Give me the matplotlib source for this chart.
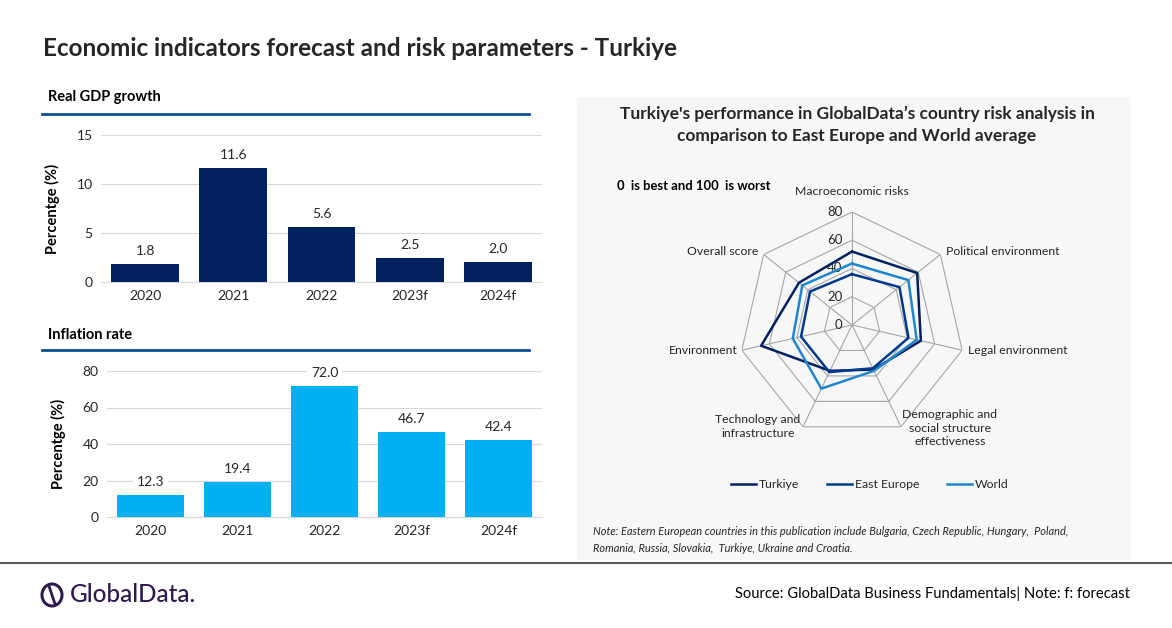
import numpy as np
import matplotlib
matplotlib.use('Agg')
import matplotlib.pyplot as plt
from matplotlib.patches import Rectangle, Ellipse
from matplotlib.lines import Line2D

# ── data ──
years = ['2020', '2021', '2022', '2023f', '2024f']
gdp_growth = [1.8, 11.6, 5.6, 2.5, 2.0]
inflation = [12.3, 19.4, 72.0, 46.7, 42.4]

risk_axes = ['Macroeconomic risks', 'Political environment', 'Legal environment',
             'Demographic and\nsocial structure\neffectiveness',
             'Technology and\ninfrastructure', 'Environment', 'Overall score']
turkiye = [52, 59, 50, 35, 36, 66, 48]
east_europe = [36, 43, 41, 34, 37, 37, 38]
world = [43.5, 51, 47, 36, 50, 43, 45]
radial_ticks = [0, 20, 40, 60, 80]

W, H = 1172, 628
plt.rcParams['font.family'] = ['Lato', 'DejaVu Sans']
TXT = '#262626'
NAVY = '#002060'
CYAN = '#00B0F0'
HEAD = '#0F4C92'

fig = plt.figure(figsize=(W / 100, H / 100), dpi=100)


def px(x0, y0, w, h):
    # pixel box (left, top, width, height) -> figure fraction
    return [x0 / W, 1 - (y0 + h) / H, w / W, h / H]


fig.text(43 / W, 1 - 48 / H, 'Economic indicators forecast and risk parameters - Turkiye',
         fontsize=17.5, fontweight='bold', color=TXT, va='center')


def bar_panel(rect, title, title_y, line_y, vals, color, ylim, yticks):
    fig.text(48 / W, 1 - title_y / H, title, fontsize=10.5, fontweight='bold',
             color='black', va='center')
    fig.add_artist(Line2D([42 / W, 529 / W], [1 - line_y / H] * 2, color=HEAD, lw=2))
    ax = fig.add_axes(rect)
    x = np.arange(len(years))
    bars = ax.bar(x, vals, width=0.77, color=color, zorder=3)
    for b, v in zip(bars, vals):
        ax.annotate(f'{v:.1f}', (b.get_x() + b.get_width() / 2, v),
                    xytext=(0, 5), textcoords='offset points', ha='center', va='bottom',
                    fontsize=10, color=TXT,
                    bbox=dict(boxstyle='square,pad=0.25', fc='white', ec='none'))
    ax.set_xlim(-0.5, len(years) - 0.5)
    ax.set_ylim(*ylim)
    ax.set_yticks(yticks)
    ax.set_xticks(x, years)
    ax.yaxis.grid(True, color='#D9D9D9', lw=0.8, zorder=0)
    ax.tick_params(length=0, labelsize=10, labelcolor=TXT, pad=6)
    for s in ['top', 'right', 'left']:
        ax.spines[s].set_visible(False)
    ax.spines['bottom'].set_color('#D9D9D9')
    ax.set_ylabel('Percentge (%)', fontsize=10.5, fontweight='bold', color='black', labelpad=12)
    return ax


bar_panel(px(101, 135, 441, 147), 'Real GDP growth', 97, 114, gdp_growth, NAVY,
          (0, 15), [0, 5, 10, 15])
bar_panel(px(107, 371, 435, 146), 'Inflation rate', 335, 350, inflation, CYAN,
          (0, 80), [0, 20, 40, 60, 80])

# ── right panel: grey box ──
fig.add_artist(Rectangle((577 / W, 1 - 560 / H), (1131 - 577) / W, (560 - 97) / H,
                         transform=fig.transFigure, fc='#F7F7F7', ec='none', zorder=0))
fig.text(857 / W, 1 - 125 / H,
         "Turkiye's performance in GlobalData\u2019s country risk analysis in\n"
         "comparison to East Europe and World average",
         ha='center', va='center', fontsize=12.5, fontweight='bold', color=TXT,
         linespacing=1.45)
fig.text(617 / W, 1 - 186 / H, '0  is best and 100  is worst', fontsize=9.4,
         fontweight='bold', color='black', va='center')

R = 113
ax = fig.add_axes(px(852 - R, 325 - R, 2 * R, 2 * R), projection='polar')
ax.patch.set_alpha(0)
ax.set_theta_zero_location('N')
ax.set_theta_direction(-1)
n = len(risk_axes)
ang = np.linspace(0, 2 * np.pi, n, endpoint=False)
angc = np.append(ang, ang[0])
ax.set_ylim(0, 80)
ax.grid(False)
ax.spines['polar'].set_visible(False)
ax.set_xticks([])
ax.set_yticks([])
for r in radial_ticks[1:]:
    ax.plot(angc, [r] * (n + 1), color='#A6A6A6', lw=0.8, zorder=1)
for a in ang:
    ax.plot([a, a], [0, 80], color='#A6A6A6', lw=0.8, zorder=1)
for r in radial_ticks:
    ax.annotate(str(r), (0, r), xytext=(-7, 0), textcoords='offset points',
                ha='right', va='center', fontsize=9.5, color=TXT)

series = [('Turkiye', turkiye, '#002060'), ('East Europe', east_europe, '#003A8C'),
          ('World', world, '#1F86D0')]
for name, vals, c in series:
    ax.plot(angc, vals + vals[:1], color=c, lw=1.8, zorder=3, label=name)

label_pos = [((0, 11), 'center', 'bottom'), ((4, 2), 'left', 'center'),
             ((4, 0), 'left', 'center'), ((1, -1), 'left', 'center'),
             ((-2, 0), 'right', 'center'), ((-3, 0), 'right', 'center'),
             ((-4, 2), 'right', 'center')]
for a, lab, (off, ha, va) in zip(ang, risk_axes, label_pos):
    ax.annotate(lab, (a, 80), xytext=off, textcoords='offset points', ha=ha, va=va,
                fontsize=8.8, color=TXT, linespacing=1.3, multialignment='center',
                annotation_clip=False)

handles = [Line2D([], [], color=c, lw=1.8) for _, _, c in series]
fig.legend(handles, [s[0] for s in series], loc='center', bbox_to_anchor=(870 / W, 1 - 485 / H),
           ncol=3, frameon=False, fontsize=8.8, handlelength=2.0, handletextpad=0.25,
           columnspacing=2.3, labelcolor=TXT)

fig.text(593 / W, 1 - 540 / H,
         'Note: Eastern European countries in this publication include Bulgaria, Czech Republic, '
         'Hungary,  Poland,\nRomania, Russia, Slovakia,  Turkiye, Ukraine and Croatia.',
         fontsize=7.9, style='italic', color=TXT, va='center', linespacing=1.6)

# ── footer ──
fig.add_artist(Line2D([0, 1], [1 - 563 / H] * 2, color='#595959', lw=1.5))
fig.add_artist(Ellipse((52 / W, 1 - 595 / H), 20 / W, 22 / H, transform=fig.transFigure,
                       fc='none', ec='#2E1A4F', lw=2.2))
fig.add_artist(Line2D([49 / W, 55 / W], [1 - 586 / H, 1 - 604 / H], color='#2E1A4F', lw=2))
fig.text(70 / W, 1 - 595 / H, 'GlobalData.', fontsize=17.5, color='#2E1A4F', va='center',
         fontweight='medium')
fig.text(1130 / W, 1 - 594 / H, 'Source: GlobalData Business Fundamentals| Note: f: forecast',
         fontsize=10.6, color='black', ha='right', va='center')

fig.savefig('out.png', dpi=100)
